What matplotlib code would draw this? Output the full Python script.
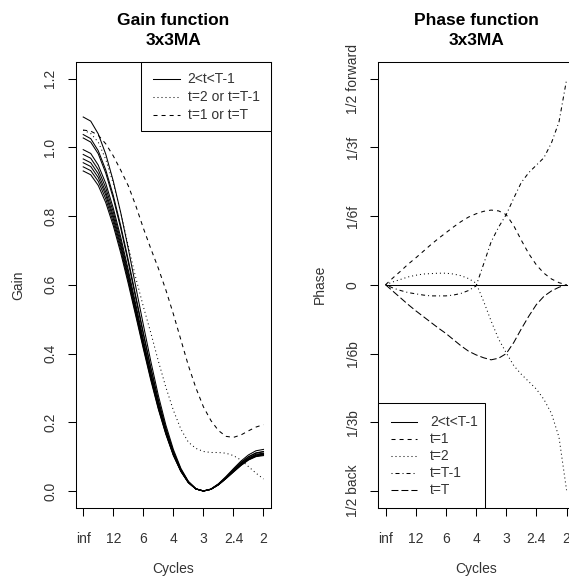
import numpy as np
import matplotlib
matplotlib.use("Agg")
import matplotlib.pyplot as plt
from matplotlib.lines import Line2D
from matplotlib.patches import Rectangle

plt.rcParams['font.family'] = ['Liberation Sans', 'DejaVu Sans']
plt.rcParams['lines.scale_dashes'] = False

# frequency grid, cycles per period (0 .. 1/2)
freq = np.linspace(0.0, 0.5, 25)

cycle_ticks = [0, 1/12, 2/12, 3/12, 4/12, 5/12, 6/12]
cycle_labels = ['inf', '12', '6', '4', '3', '2.4', '2']

gain_ticks = [0.0, 0.2, 0.4, 0.6, 0.8, 1.0, 1.2]
gain_labels = ['0.0', '0.2', '0.4', '0.6', '0.8', '1.0', '1.2']

phase_ticks = [-1/2, -1/3, -1/6, 0, 1/6, 1/3, 1/2]
phase_labels = ['1/2 back', '1/3b', '1/6b', '0', '1/6f', '1/3f', '1/2 forward']

# gain of the interior (2<t<T-1) filters
gain_mid_1 = [1.088, 1.076, 1.039, 0.980, 0.902, 0.809, 0.705, 0.594, 0.484, 0.377, 0.278, 0.192, 0.121,
              0.066, 0.028, 0.007, 0.000, 0.006, 0.021, 0.042, 0.065, 0.087, 0.105, 0.117, 0.121]
gain_mid_2 = [1.037, 1.025, 0.990, 0.934, 0.860, 0.771, 0.672, 0.567, 0.461, 0.359, 0.265, 0.183, 0.115,
              0.063, 0.027, 0.006, 0.000, 0.005, 0.020, 0.040, 0.062, 0.083, 0.100, 0.111, 0.115]
gain_mid_3 = [1.027, 1.015, 0.981, 0.925, 0.852, 0.764, 0.665, 0.561, 0.456, 0.356, 0.263, 0.181, 0.114,
              0.062, 0.027, 0.006, 0.000, 0.005, 0.020, 0.039, 0.061, 0.082, 0.099, 0.110, 0.114]
gain_mid_4 = [0.993, 0.982, 0.948, 0.895, 0.823, 0.738, 0.643, 0.543, 0.441, 0.344, 0.254, 0.175, 0.110,
              0.060, 0.026, 0.006, 0.000, 0.005, 0.019, 0.038, 0.059, 0.079, 0.096, 0.107, 0.110]
gain_mid_5 = [0.979, 0.968, 0.935, 0.882, 0.812, 0.728, 0.634, 0.535, 0.435, 0.339, 0.251, 0.173, 0.109,
              0.059, 0.025, 0.006, 0.000, 0.005, 0.019, 0.037, 0.058, 0.078, 0.094, 0.105, 0.109]
gain_mid_6 = [0.966, 0.955, 0.923, 0.870, 0.801, 0.718, 0.626, 0.528, 0.429, 0.335, 0.247, 0.171, 0.107,
              0.059, 0.025, 0.006, 0.000, 0.005, 0.018, 0.037, 0.057, 0.077, 0.093, 0.104, 0.107]
gain_mid_7 = [0.955, 0.944, 0.912, 0.861, 0.792, 0.710, 0.618, 0.522, 0.424, 0.331, 0.244, 0.169, 0.106,
              0.058, 0.025, 0.006, 0.000, 0.005, 0.018, 0.037, 0.057, 0.076, 0.092, 0.102, 0.106]
gain_mid_8 = [0.943, 0.932, 0.901, 0.850, 0.782, 0.701, 0.611, 0.515, 0.419, 0.327, 0.241, 0.167, 0.105,
              0.057, 0.024, 0.006, 0.000, 0.005, 0.018, 0.036, 0.056, 0.075, 0.091, 0.101, 0.105]
gain_mid_9 = [0.931, 0.920, 0.889, 0.839, 0.772, 0.692, 0.603, 0.509, 0.414, 0.322, 0.238, 0.165, 0.103,
              0.057, 0.024, 0.006, 0.000, 0.005, 0.018, 0.036, 0.055, 0.074, 0.090, 0.100, 0.103]

# gain of the filters at t=2 / t=T-1 and at t=1 / t=T
gain_t2 = [1.050, 1.040, 1.015, 0.965, 0.895, 0.810, 0.712, 0.620, 0.537, 0.460, 0.378, 0.302, 0.235,
           0.180, 0.142, 0.124, 0.115, 0.112, 0.112, 0.110, 0.103, 0.090, 0.071, 0.052, 0.035]
gain_t1 = [1.050, 1.047, 1.035, 1.010, 0.975, 0.933, 0.888, 0.830, 0.765, 0.705, 0.648, 0.585, 0.515,
           0.440, 0.365, 0.300, 0.245, 0.205, 0.176, 0.159, 0.156, 0.163, 0.175, 0.186, 0.193]

# phase shifts (fraction of a cycle; positive = forward)
phase_mid = [0.0] * 25
phase_t1 = [0.000, 0.017, 0.033, 0.050, 0.065, 0.081, 0.097, 0.112, 0.126, 0.140, 0.153, 0.164, 0.172,
            0.178, 0.181, 0.179, 0.170, 0.143, 0.108, 0.075, 0.048, 0.028, 0.014, 0.005, 0.000]
phase_t2 = [0.000, 0.007, 0.013, 0.019, 0.023, 0.026, 0.027, 0.028, 0.028, 0.026, 0.022, 0.015, 0.004,
            -0.040, -0.088, -0.132, -0.165, -0.196, -0.217, -0.235, -0.253, -0.278, -0.312, -0.370, -0.498]
phase_tm1 = [0.000, -0.008, -0.014, -0.019, -0.022, -0.025, -0.027, -0.027, -0.027, -0.025, -0.021, -0.014, -0.003,
             0.050, 0.104, 0.140, 0.170, 0.210, 0.248, 0.272, 0.290, 0.308, 0.344, 0.395, 0.497]
phase_tT = [0.000, -0.016, -0.032, -0.048, -0.063, -0.077, -0.091, -0.105, -0.118, -0.133, -0.148, -0.161, -0.170,
            -0.177, -0.182, -0.178, -0.167, -0.140, -0.107, -0.076, -0.048, -0.028, -0.015, -0.006, 0.000]

LS_DASH = (0, (2.9, 2.9))
LS_DOT = (0, (0.72, 2.16))
LS_DOTDASH = (0, (0.72, 2.16, 2.9, 2.16))
LS_LONG = (0, (5.0, 2.16))
LW = 0.75
TXT = '#333333'

W, H = 569, 580
fig = plt.figure(figsize=(W / 100, H / 100), dpi=100)
ax1 = fig.add_axes([76 / W, 1 - 507.5 / H, 194.7 / W, 445.5 / H])
ax2 = fig.add_axes([378.3 / W, 1 - 507.5 / H, 195.5 / W, 445.5 / H])


def style_axes(ax, yticks, ylabels, ylabel, title):
    ax.set_xlim(-0.02, 0.52)
    ax.set_xticks(cycle_ticks)
    ax.set_xticklabels(cycle_labels)
    ax.set_yticks(yticks)
    ax.set_yticklabels(ylabels, rotation=90, va='center')
    ax.tick_params(direction='out', length=6, width=LW, labelsize=10,
                   labelcolor=TXT, color='black')
    ax.tick_params(axis='x', pad=11.5)
    ax.tick_params(axis='y', pad=7.5)
    for sp in ax.spines.values():
        sp.set_linewidth(LW)
        sp.set_color('black')
    ax.set_xlabel('Cycles', fontsize=10, color=TXT, va='center')
    ax.xaxis.set_label_coords(0.5, -0.138)
    ax.set_ylabel(ylabel, fontsize=10, color=TXT, va='center')
    ax.yaxis.set_label_coords(-0.298, 0.5)
    ax.text(0.5, 1.038, title, transform=ax.transAxes, ha='center', va='baseline',
            fontsize=12.5, fontweight='bold', linespacing=1.42)


def key_box(box, rows, sample, text_x, entries):
    x0, y0, x1, y1 = box
    fig.add_artist(Rectangle((x0 / W, 1 - y1 / H), (x1 - x0) / W, (y1 - y0) / H,
                             transform=fig.transFigure, facecolor='white',
                             edgecolor='black', lw=LW, zorder=5))
    for (label, ls), y in zip(entries, rows):
        fig.add_artist(Line2D([sample[0] / W, sample[1] / W], [1 - y / H] * 2,
                              transform=fig.transFigure, color='black', lw=LW,
                              linestyle=ls, zorder=6))
        fig.text(text_x / W, 1 - y / H, label, ha='left', va='center',
                 fontsize=10, color=TXT, zorder=6)


# Gain panel
for g in [gain_mid_1, gain_mid_2, gain_mid_3, gain_mid_4, gain_mid_5,
          gain_mid_6, gain_mid_7, gain_mid_8, gain_mid_9]:
    ax1.plot(freq, g, color='black', lw=LW, linestyle='-')
ax1.plot(freq, gain_t2, color='black', lw=LW, linestyle=LS_DOT)
ax1.plot(freq, gain_t1, color='black', lw=LW, linestyle=LS_DASH)
ax1.set_ylim(-0.048, 1.248)
style_axes(ax1, gain_ticks, gain_labels, 'Gain', 'Gain function\n3x3MA')

# Phase panel
ax2.plot(freq, phase_mid, color='black', lw=LW, linestyle='-')
ax2.plot(freq, phase_t1, color='black', lw=LW, linestyle=LS_DASH)
ax2.plot(freq, phase_t2, color='black', lw=LW, linestyle=LS_DOT)
ax2.plot(freq, phase_tm1, color='black', lw=LW, linestyle=LS_DOTDASH)
ax2.plot(freq, phase_tT, color='black', lw=LW, linestyle=LS_LONG)
ax2.set_ylim(-0.54, 0.54)
style_axes(ax2, phase_ticks, phase_labels, 'Phase', 'Phase function\n3x3MA')

key_box((140.7, 62, 270.7, 130.7), [79, 97.3, 115], (153, 180), 187.7,
        [('2<t<T-1', '-'), ('t=2 or t=T-1', LS_DOT), ('t=1 or t=T', LS_DASH)])
key_box((378.3, 403.3, 485, 507.5), [422.3, 439.3, 456.3, 473.3, 490.3], (390.7, 417.3), 430,
        [('2<t<T-1', '-'), ('t=1', LS_DASH), ('t=2', LS_DOT), ('t=T-1', LS_DOTDASH), ('t=T', LS_LONG)])

fig.savefig('out.png', dpi=100, facecolor='white')
